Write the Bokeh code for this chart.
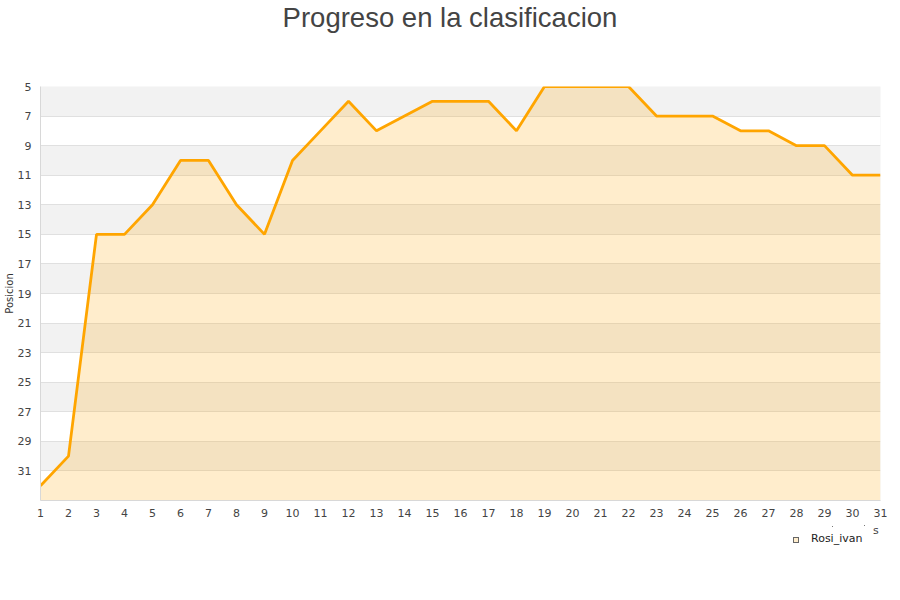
from bokeh.plotting import figure
from bokeh.models import Range1d, FixedTicker, Div
from bokeh.layouts import column
from bokeh.embed import file_html
from bokeh.resources import INLINE

jornadas = list(range(1, 32))
posiciones = [32, 30, 15, 15, 13, 10, 10, 13, 15, 10, 8, 6, 8, 7, 6, 6, 6, 8,
              5, 5, 5, 5, 7, 7, 7, 8, 8, 9, 9, 11, 11]
y_ticks = list(range(5, 32, 2))
grid_ticks = list(range(5, 34, 2))
serie = "Rosi_ivan"
titulo = "Progreso en la clasificacion"
eje_y = "Posicion"
pos_min, pos_max = 5, 33

title_div = Div(
    text=f'<div style="width:900px;text-align:center;font-family:\'Liberation Sans\';'
         f'font-size:27.5px;color:#444444;line-height:31px;margin:0;padding:2px 0 0 0;">{titulo}</div>',
    width=900, height=40, margin=0)

p = figure(width=900, height=480, output_backend="svg", toolbar_location=None,
           x_range=Range1d(1, 31), y_range=Range1d(pos_max, pos_min),
           min_border_left=40, min_border_right=20, min_border_top=46,
           min_border_bottom=20, margin=0)
p.outline_line_color = None
p.background_fill_color = "#f2f2f2"

# grid (alternate bands: white bands over a grey frame)
p.xgrid.grid_line_color = None
p.ygrid.ticker = FixedTicker(ticks=grid_ticks)
p.ygrid.grid_line_color = "#e0e0e0"
p.ygrid.band_fill_color = "white"
p.ygrid.band_fill_alpha = 1

# axes
p.xaxis.ticker = FixedTicker(ticks=jornadas)
p.yaxis.ticker = FixedTicker(ticks=y_ticks)
for ax in (p.xaxis[0], p.yaxis[0]):
    ax.axis_line_color = "#d8d8d8"
    ax.major_tick_line_color = None
    ax.minor_tick_line_color = None
    ax.major_tick_out = 0
    ax.major_tick_in = 0
    ax.minor_tick_out = 0
    ax.minor_tick_in = 0
    ax.major_label_text_font = "DejaVu Sans"
    ax.major_label_text_font_size = "11px"
    ax.major_label_text_color = "#444444"
p.xaxis.major_label_standoff = 8
p.yaxis.major_label_standoff = 9
p.yaxis.axis_label = eje_y
p.yaxis.axis_label_text_font = "DejaVu Sans"
p.yaxis.axis_label_text_font_size = "10px"
p.yaxis.axis_label_text_font_style = "normal"
p.yaxis.axis_label_text_color = "#333333"
p.yaxis.axis_label_standoff = 0

# data
p.varea(x=jornadas, y1=posiciones, y2=[pos_max] * len(jornadas),
        fill_color="#ffa500", fill_alpha=0.2)
p.line(x=jornadas, y=posiciones, line_color="#ffa500", line_width=2.8)

legend_div = Div(
    text=f'<div style="position:relative;width:900px;height:80px;margin:0;padding:0;'
         f'font-family:\'DejaVu Sans\';font-size:11px;color:#222222;">'
         f'<span style="position:absolute;left:832px;top:6px;width:1px;height:1px;background:#777777;"></span>'
         f'<span style="position:absolute;left:864px;top:5px;width:1px;height:1px;background:#777777;"></span>'
         f'<span style="position:absolute;left:873px;top:4px;line-height:13px;color:#444444;">s</span>'
         f'<span style="position:absolute;left:793px;top:17px;width:6px;height:6px;'
         f'background:#ffedcc;border:1px solid #666666;"></span>'
         f'<span style="position:absolute;left:811px;top:12px;line-height:13px;">{serie}</span>'
         f'</div>',
    width=900, height=80, margin=0)

layout = column(title_div, p, legend_div, spacing=0)
open("out.html", "w").write(file_html(layout, INLINE))
